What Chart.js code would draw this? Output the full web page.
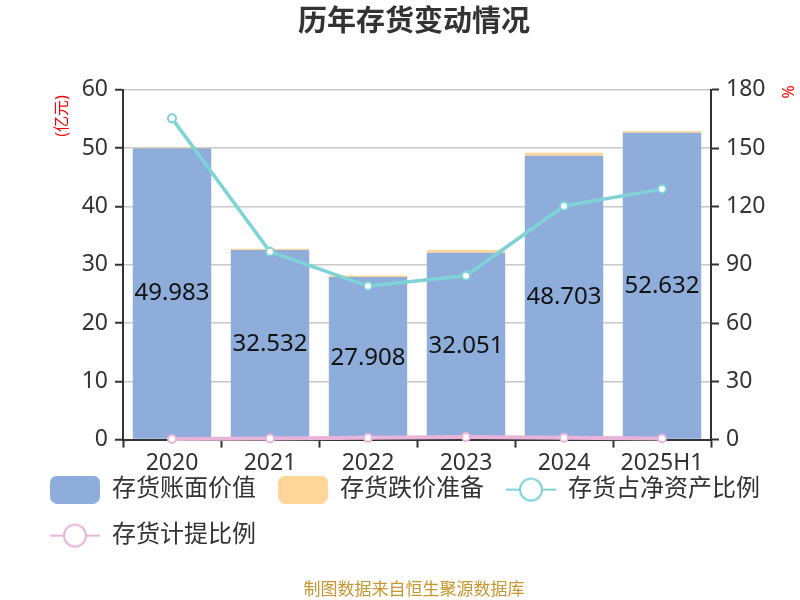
<!DOCTYPE html>
<html>
<head>
<meta charset="utf-8">
<script src="https://cdn.jsdelivr.net/npm/chart.js@4/dist/chart.umd.min.js"></script>
<style>
  html, body { margin: 0; padding: 0; background: #fff; }
  #c { display: block; }
</style>
</head>
<body>
<canvas id="c" width="800" height="600"></canvas>
<script>
// values
const years = ["2020", "2021", "2022", "2023", "2024", "2025H1"];
const bookValue = [49.983, 32.532, 27.908, 32.051, 48.703, 52.632];
const impairment = [0.12, 0.2, 0.25, 0.45, 0.5, 0.3];
const shareOfNetAssets = [165.3, 96.7, 79.0, 84.3, 120.2, 128.9];
const provisionRatio = [0.3, 0.6, 0.9, 1.4, 1.0, 0.6];
const seriesNames = ["存货账面价值", "存货跌价准备", "存货占净资产比例", "存货计提比例"];

const BLUE = "#8EADDA";
const ORANGE = "#FFD699";
const TEAL = "#7ED3D6";
const PINK = "#E8B4DA";
const FONT = '"Noto Sans", "Noto Sans CJK SC", sans-serif';

const boxIcon = (color) => {
  const c = document.createElement("canvas");
  c.width = 50;
  c.height = 28;
  const g = c.getContext("2d");
  g.fillStyle = color;
  g.beginPath();
  g.roundRect(0, 0, 50, 28, 7);
  g.fill();
  return c;
};

const lineIcon = (color) => {
  const c = document.createElement("canvas");
  c.width = 50;
  c.height = 28;
  const g = c.getContext("2d");
  g.strokeStyle = color;
  g.lineWidth = 2;
  g.beginPath();
  g.moveTo(0, 14);
  g.lineTo(50, 14);
  g.stroke();
  g.fillStyle = "#fff";
  g.beginPath();
  g.arc(25, 14, 11, 0, Math.PI * 2);
  g.fill();
  g.stroke();
  return c;
};

const icons = [boxIcon(BLUE), boxIcon(ORANGE), lineIcon(TEAL), lineIcon(PINK)];

// values in the middle of the blue bars + the two axis names
const labelsPlugin = {
  id: "labels",
  beforeDraw(chart) {
    // x axis is kept short so the legend sits close; let its labels spill below
    chart.scales.x.bottom = chart.scales.x.top + 45;
  },
  afterDatasetsDraw(chart) {
    const ctx = chart.ctx;
    const meta = chart.getDatasetMeta(0);
    ctx.save();
    ctx.font = "24px " + FONT;
    ctx.fillStyle = "#111";
    ctx.textAlign = "center";
    ctx.textBaseline = "middle";
    meta.data.forEach((bar, i) => {
      ctx.fillText(bookValue[i].toFixed(3), bar.x, (bar.y + bar.base) / 2);
    });
    ctx.restore();
  },
  afterDraw(chart) {
    const ctx = chart.ctx;
    ctx.save();
    ctx.fillStyle = "#FF0000";
    ctx.font = "16px " + FONT;
    ctx.textAlign = "center";
    ctx.textBaseline = "middle";
    ctx.translate(62, 116);
    ctx.rotate(-Math.PI / 2);
    ctx.fillText("(亿元)", 0, 0);
    ctx.restore();
    ctx.save();
    ctx.fillStyle = "#FF0000";
    ctx.font = "16px " + FONT;
    ctx.textAlign = "center";
    ctx.textBaseline = "middle";
    ctx.translate(787, 92);
    ctx.rotate(Math.PI / 2);
    ctx.fillText("%", 0, 0);
    ctx.restore();
  },
};

new Chart(document.getElementById("c"), {
  type: "bar",
  plugins: [labelsPlugin],
  data: {
    labels: years,
    datasets: [
      {
        label: seriesNames[0],
        data: bookValue,
        backgroundColor: BLUE,
        stack: "inv",
        yAxisID: "y",
        order: 2,
      },
      {
        label: seriesNames[1],
        data: impairment,
        backgroundColor: ORANGE,
        stack: "inv",
        yAxisID: "y",
        order: 2,
      },
      {
        type: "line",
        label: seriesNames[2],
        data: shareOfNetAssets,
        borderColor: TEAL,
        borderWidth: 3.5,
        pointRadius: 4,
        pointBorderWidth: 2,
        pointBackgroundColor: "#fff",
        pointBorderColor: TEAL,
        yAxisID: "y1",
        clip: false,
        order: 1,
      },
      {
        type: "line",
        label: seriesNames[3],
        data: provisionRatio,
        borderColor: PINK,
        borderWidth: 4,
        pointRadius: 4,
        pointBorderWidth: 2,
        pointBackgroundColor: "#fff",
        pointBorderColor: PINK,
        yAxisID: "y1",
        clip: false,
        order: 0,
      },
    ],
  },
  options: {
    responsive: false,
    animation: false,
    devicePixelRatio: 1,
    layout: { padding: { left: 28, right: 0, top: 0, bottom: 0 } },
    datasets: { bar: { barPercentage: 0.8, categoryPercentage: 1.0 } },
    scales: {
      x: {
        stacked: true,
        grid: {
          display: true,
          drawOnChartArea: false,
          offset: true,
          tickLength: 8,
          tickColor: "#333",
          tickWidth: 2,
        },
        border: { color: "#333", width: 2 },
        ticks: { color: "#333", font: { size: 23, family: FONT }, padding: 2 },
        afterFit: (scale) => {
          scale.height = 16;
        },
      },
      y: {
        stacked: true,
        position: "left",
        min: 0,
        max: 60,
        ticks: { stepSize: 10, color: "#333", font: { size: 23, family: FONT }, padding: 7 },
        grid: { color: "#C8C8C8", lineWidth: 1.5, tickLength: 8, tickColor: "#333", tickWidth: 2 },
        border: { color: "#333", width: 2 },
        afterFit: (scale) => {
          scale.width = 95;
        },
      },
      y1: {
        position: "right",
        min: 0,
        max: 180,
        ticks: { stepSize: 30, color: "#333", font: { size: 23, family: FONT }, padding: 7 },
        grid: { drawOnChartArea: false, tickLength: 8, tickColor: "#333", tickWidth: 2 },
        border: { color: "#333", width: 2 },
        afterFit: (scale) => {
          scale.width = 89;
        },
      },
    },
    plugins: {
      tooltip: { enabled: false },
      title: {
        display: true,
        text: "历年存货变动情况",
        color: "#333",
        font: { size: 29, weight: "bold", family: FONT },
        padding: { top: 5, bottom: 50 },
      },
      subtitle: {
        display: true,
        position: "bottom",
        text: "制图数据来自恒生聚源数据库",
        color: "#C8962F",
        font: { size: 17, family: FONT },
        padding: { top: 22, bottom: 0 },
      },
      legend: {
        position: "bottom",
        align: "start",
        labels: {
          usePointStyle: true,
          pointStyleWidth: 50,
          padding: 22,
          color: "#333",
          font: { size: 24, family: FONT },
          generateLabels(chart) {
            const items = Chart.defaults.plugins.legend.labels.generateLabels(chart);
            items.sort((a, b) => a.datasetIndex - b.datasetIndex);
            items.forEach((it) => {
              it.pointStyle = icons[it.datasetIndex];
            });
            return items;
          },
        },
      },
    },
  },
});
</script>
</body>
</html>
